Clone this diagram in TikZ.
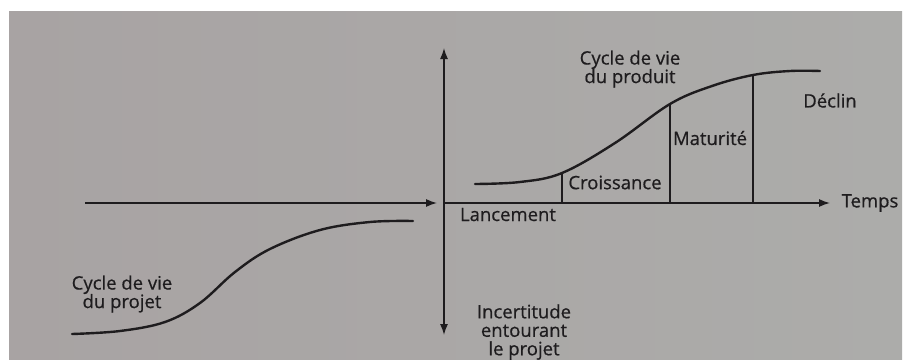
\documentclass[tikz,border=0pt]{standalone}
\usepackage{fontspec}
\setmainfont{Open Sans}
\newfontfamily\lblfont{Open Sans}[FakeBold=0.6]
\usetikzlibrary{arrows.meta}
\definecolor{paperL}{RGB}{168,163,163}
\definecolor{paperR}{RGB}{172,172,170}
\definecolor{ink}{RGB}{30,28,30}
\begin{document}
\begin{tikzpicture}[x=1pt,y=-1pt,
  lbl/.style={text=ink, font=\lblfont\fontsize{18.5}{18.5}\selectfont, inner sep=0pt, align=center},
  axis/.style={draw=ink, line width=1.4pt, -{Latex[length=11pt,width=8pt]}},
  curve/.style={draw=ink, line width=2.4pt, line cap=round},
  phase/.style={draw=ink, line width=1.3pt}]
\useasboundingbox (0,0) rectangle (905,359);
\fill[white] (0,0) rectangle (905,359);
\shade[left color=paperL, right color=paperR] (9,11) rectangle (902,359);
% axes
\coordinate (origin) at (444,203);
\coordinate (vtop) at (444,48);
\coordinate (vbot) at (444,335);
\coordinate (hleft) at (85,203);
\coordinate (hmid) at (437,203);
\coordinate (hright) at (830,203);
\draw[axis] (origin) -- (vtop);
\draw[axis] (origin) -- (vbot);
\draw[axis] (hleft) -- (hmid);
\draw[axis] (origin) -- (hright);
% product curve
\coordinate (p1) at (562,173);
\coordinate (p2) at (670,104);
\coordinate (p3) at (753,75);
\coordinate (b1) at (562,203);
\coordinate (b2) at (670,203);
\coordinate (b3) at (753,203);
\draw[curve] plot[smooth, tension=0.6] coordinates {(475,184) (520,182) (p1) (615,143) (p2) (712,86) (p3) (790,71) (820,71)};
\draw[phase] (p1) -- (b1);
\draw[phase] (p2) -- (b2);
\draw[phase] (p3) -- (b3);
% project curve
\draw[curve] plot[smooth, tension=0.6] coordinates {(72,334) (120,331) (165,322) (200,303) (235,272) (270,249) (320,230) (370,222) (413,221)};
% labels
\node[lbl] (prod) at (630,69) {Cycle de vie\\du produit};
\node[lbl] (declin) at (830,100.5) {Déclin};
\node[lbl] (matur) at (710,138) {Maturité};
\node[lbl] (crois) at (615,182.5) {Croissance};
\node[lbl] (lanc) at (508,214.5) {Lancement};
\node[lbl] (temps) at (870,203) {Temps};
\node[lbl] (incert) at (524,332) {Incertitude\\entourant\\le projet};
\node[lbl] (proj) at (122,294) {Cycle de vie\\du projet};
\end{tikzpicture}
\end{document}
